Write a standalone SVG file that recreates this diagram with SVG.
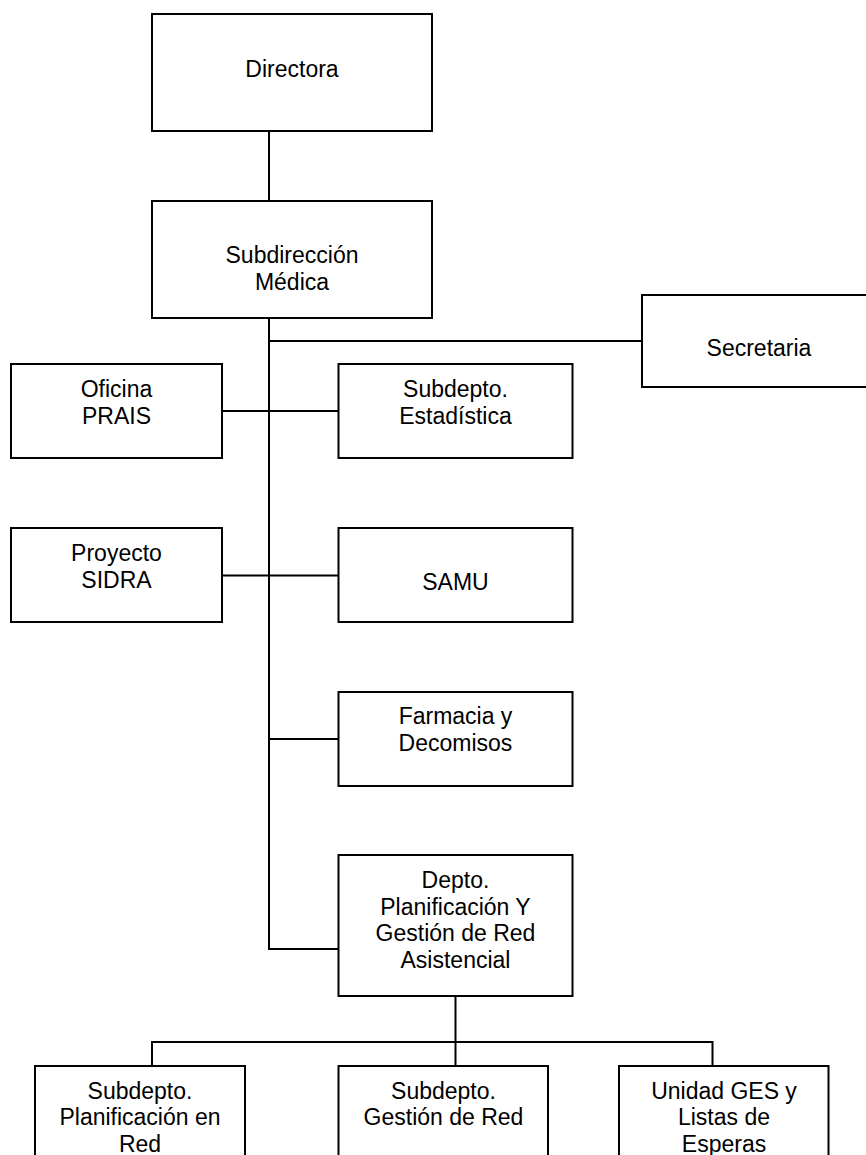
<svg xmlns="http://www.w3.org/2000/svg" width="866" height="1155" viewBox="0 0 866 1155">
<style>
.box{fill:#fff;stroke:#000;stroke-width:2}
.ln{fill:none;stroke:#000;stroke-width:2}
text{font-family:"Liberation Sans",Arial,sans-serif;font-size:23px;fill:#000;text-anchor:middle}
</style>
<rect width="866" height="1155" fill="#fff"/>
<g id="connectors">
<path class="ln" d="M269 131V201"/>
<path class="ln" d="M269 318V949H338.5"/>
<path class="ln" d="M269 341H642"/>
<path class="ln" d="M222 411H338.5"/>
<path class="ln" d="M222 575.5H338.5"/>
<path class="ln" d="M269 739H338.5"/>
<path class="ln" d="M455.5 996V1066"/>
<path class="ln" d="M152 1066V1042H712.5V1066"/>
</g>
<g id="directora"><rect class="box" x="152" y="14" width="280" height="117"/><text x="292" y="77">Directora</text></g>
<g id="subdireccion"><rect class="box" x="152" y="201" width="280" height="117"/><text x="292" y="263">Subdirección</text><text x="292" y="289.5">Médica</text></g>
<g id="secretaria"><rect class="box" x="642" y="295" width="230" height="92"/><text x="759" y="355.5">Secretaria</text></g>
<g id="oficina-prais"><rect class="box" x="11" y="364" width="211" height="94"/><text x="116.5" y="397">Oficina</text><text x="116.5" y="424">PRAIS</text></g>
<g id="estadistica"><rect class="box" x="338.5" y="364" width="234" height="94"/><text x="455.5" y="397">Subdepto.</text><text x="455.5" y="424">Estadística</text></g>
<g id="proyecto-sidra"><rect class="box" x="11" y="528" width="211" height="94"/><text x="116.5" y="561">Proyecto</text><text x="116.5" y="588">SIDRA</text></g>
<g id="samu"><rect class="box" x="338.5" y="528" width="234" height="94"/><text x="455.5" y="590">SAMU</text></g>
<g id="farmacia"><rect class="box" x="338.5" y="692" width="234" height="94"/><text x="455.5" y="723.5">Farmacia y</text><text x="455.5" y="750.5">Decomisos</text></g>
<g id="depto-planificacion"><rect class="box" x="338.5" y="855" width="234" height="141"/><text x="455.5" y="888">Depto.</text><text x="455.5" y="914.5">Planificación Y</text><text x="455.5" y="941">Gestión de Red</text><text x="455.5" y="967.5">Asistencial</text></g>
<g id="planificacion-red"><rect class="box" x="35" y="1066" width="210" height="110"/><text x="140" y="1098.5">Subdepto.</text><text x="140" y="1125">Planificación en</text><text x="140" y="1151.5">Red</text></g>
<g id="gestion-red"><rect class="box" x="338.5" y="1066" width="209.5" height="110"/><text x="443.5" y="1098.5">Subdepto.</text><text x="443.5" y="1125">Gestión de Red</text></g>
<g id="unidad-ges"><rect class="box" x="619" y="1066" width="209.5" height="110"/><text x="724" y="1098.5">Unidad GES y</text><text x="724" y="1125">Listas de</text><text x="724" y="1151.5">Esperas</text></g>
</svg>
